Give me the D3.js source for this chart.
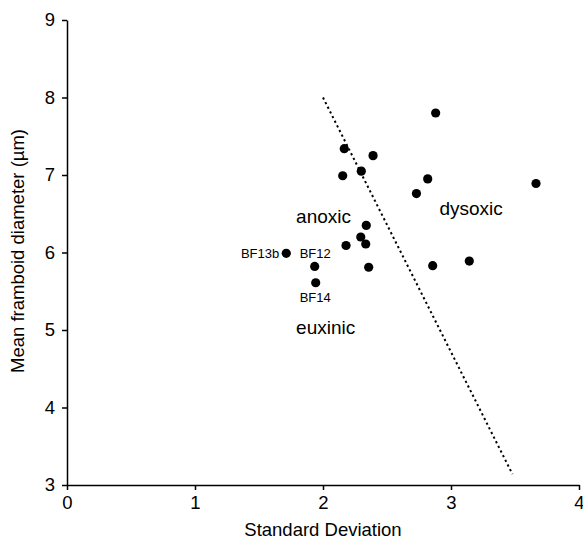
<!DOCTYPE html>
<html><head><meta charset="utf-8">
<script src="https://cdn.jsdelivr.net/npm/d3@7"></script>
<style>body{margin:0;background:#fff}svg{display:block}text{font-family:"Liberation Sans",Arial,sans-serif;fill:#000}</style>
</head><body>
<script>
const sdValues = [2.166,2.391,2.154,2.299,2.730,2.338,2.295,2.334,2.180,1.713,1.935,2.357,1.943,2.880,2.818,3.664,2.857,3.143];
const meanValues = [7.34,7.25,6.99,7.05,6.76,6.35,6.20,6.11,6.09,5.99,5.82,5.81,5.61,7.80,6.95,6.89,5.83,5.89];
const pointLabels = [
  {name:"BF13b", x:1.713, y:5.99, pos:"left"},
  {name:"BF12", x:1.935, y:5.82, pos:"above"},
  {name:"BF14", x:1.943, y:5.61, pos:"below"}
];
const regionLabels = [
  {name:"anoxic", x:1.79, y:6.38},
  {name:"dysoxic", x:2.91, y:6.48},
  {name:"euxinic", x:1.79, y:4.95}
];
const boundaryLine = [{x:2.0,y:8.0},{x:3.48,y:3.14}];
const xTicks = [0,1,2,3,4];
const yTicks = [3,4,5,6,7,8,9];

const W=583,H=543;
const svg=d3.select("body").append("svg").attr("width",W).attr("height",H);
const x=d3.scaleLinear().domain([0,4]).range([67,579]);
const y=d3.scaleLinear().domain([3,9]).range([485,20]);

const xa=svg.append("g").attr("transform","translate(0,485)")
  .call(d3.axisBottom(x).tickValues(xTicks).tickFormat(d3.format("d")).tickSize(5).tickSizeOuter(0).tickPadding(6));
const ya=svg.append("g").attr("transform","translate(67,0)")
  .call(d3.axisLeft(y).tickValues(yTicks).tickFormat(d3.format("d")).tickSize(5).tickSizeOuter(0).tickPadding(7));
[xa,ya].forEach(a=>{
  a.selectAll("path,line").attr("stroke","#000").attr("stroke-width",1.5);
  a.selectAll("text").style("font-size","18.5px").style("font-family",'"Liberation Sans",Arial,sans-serif');
});

svg.append("path").datum(boundaryLine)
  .attr("d",d3.line().x(d=>x(d.x)).y(d=>y(d.y)))
  .attr("stroke","#000").attr("stroke-width",2).attr("stroke-dasharray","2.2,3").attr("fill","none");

svg.selectAll("circle.pt").data(sdValues.map((v,i)=>({x:v,y:meanValues[i]}))).enter()
  .append("circle").attr("class","pt").attr("cx",d=>x(d.x)).attr("cy",d=>y(d.y)).attr("r",4.6).attr("fill","#000");

pointLabels.forEach(p=>{
  const t=svg.append("text").text(p.name).style("font-size","13px");
  if(p.pos==="left") t.attr("x",x(p.x)-7).attr("y",y(p.y)+4.5).attr("text-anchor","end");
  if(p.pos==="above") t.attr("x",x(p.x)-15).attr("y",y(p.y)-8);
  if(p.pos==="below") t.attr("x",x(p.x)-16).attr("y",y(p.y)+19.5);
});

regionLabels.forEach(r=>{
  svg.append("text").text(r.name).attr("x",x(r.x)).attr("y",y(r.y)).style("font-size","19px");
});

svg.append("text").text("Standard Deviation").attr("x",323).attr("y",536).attr("text-anchor","middle").style("font-size","18.5px");
svg.append("text").text("Mean framboid diameter (µm)").attr("transform","translate(24,251) rotate(-90)").attr("text-anchor","middle").style("font-size","18.5px");
</script>
</body></html>
